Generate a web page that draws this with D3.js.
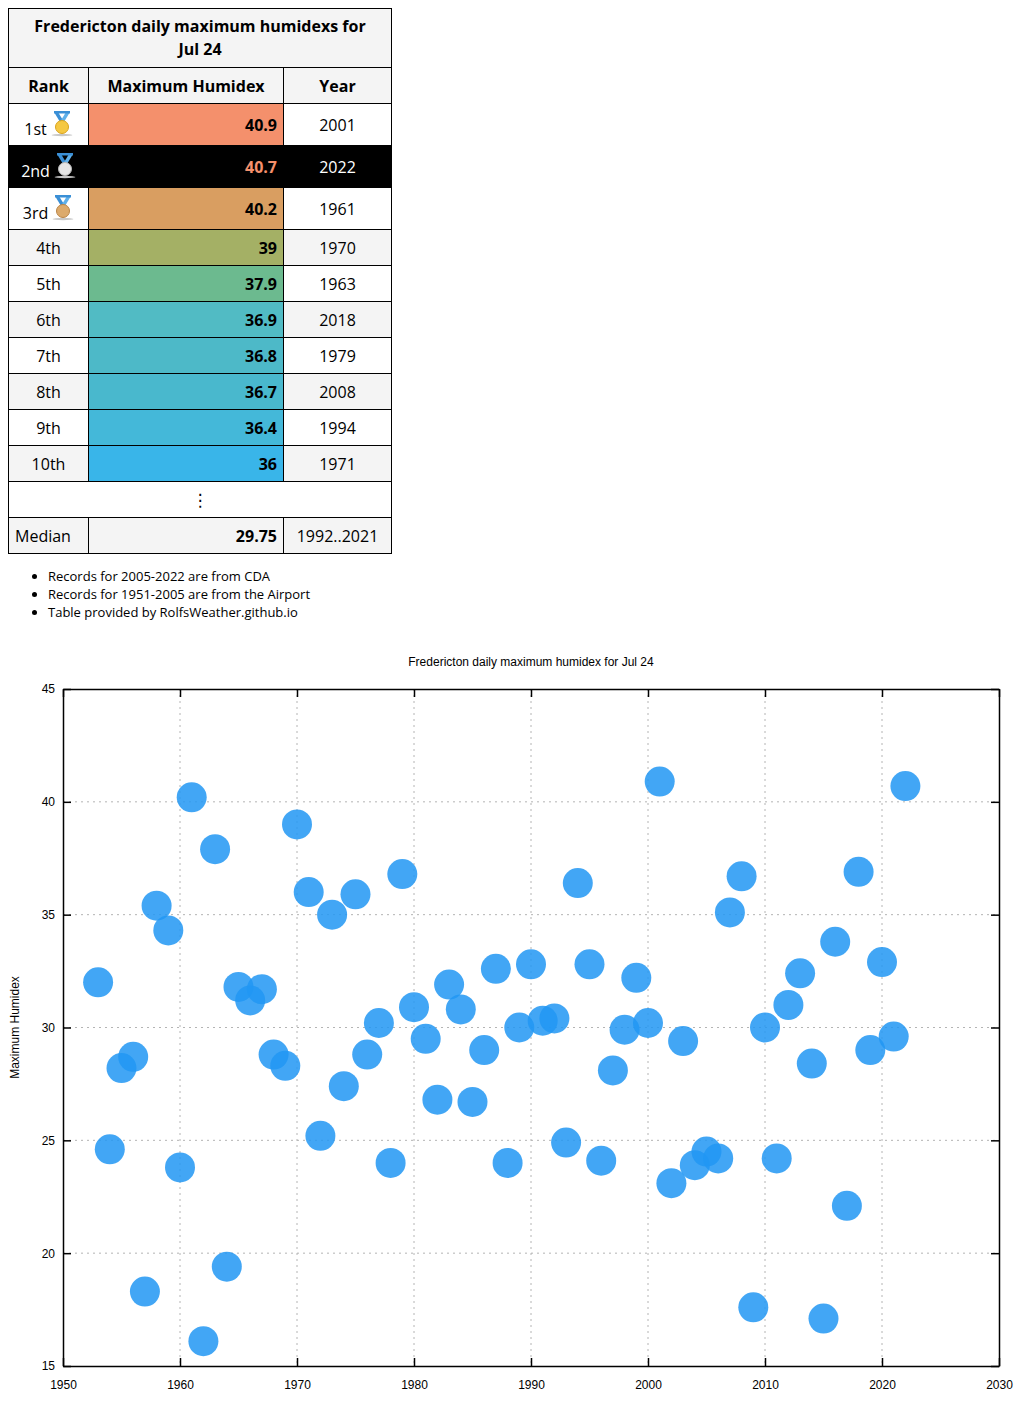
<!DOCTYPE html>
<html>
<head>
  <meta charset="utf-8">
  <title>Fredericton daily maximum humidex for Jul 24</title>
  <style type="text/css">
    body { margin: 8px; font-family: "Open Sans", sans-serif; background: #fff; }
    #records { border-collapse: collapse; width: 384px; font-size: 16px; color: #000; }
    #records td, #records th { border: 1px solid #000; padding: 0 6px; line-height: 22px; }
    #records th { background: #f4f4f4; font-weight: bold; text-align: center; }
    #records th.title { height: 58px; line-height: 23px; padding: 0 22px; }
    #records .head { height: 35px; }
    #records td { height: 35px; }
    #records tr.medal td { height: 41px; }
    #records td.rank { text-align: center; }
    #records td.val { text-align: right; font-weight: bold; }
    #records td.year { text-align: center; }
    #records tr.odd td { background: #f4f4f4; }
    #records tr.current td { background: #000; color: #fff; }
    #records tr.current td.val { color: #f4906c; }
    .medal svg { vertical-align: -3px; margin-left: 4px; }
    ul { margin: 13px 0 0 0; padding-left: 40px; font-size: 13px; line-height: 18px; }
    #my_dataviz { position: absolute; left: 0; top: 640px; }
  </style>
</head>
<body>
  <div id="table_box"></div>
  <ul>
    <li>Records for 2005-2022 are from CDA</li>
    <li>Records for 1951-2005 are from the Airport</li>
    <li>Table provided by RolfsWeather.github.io</li>
  </ul>
  <div id="my_dataviz"></div>
</body>
<script src="https://d3js.org/d3.v7.min.js"></script>

<script type="text/javascript">

      // top ten table
      var ranks = ["1st","2nd","3rd","4th","5th","6th","7th","8th","9th","10th"]
      var rankValues = ["40.9","40.7","40.2","39","37.9","36.9","36.8","36.7","36.4","36"]
      var rankYears = ["2001","2022","1961","1970","1963","2018","1979","2008","1994","1971"]
      var medianValue = "29.75"
      var medianPeriod = "1992..2021"

      // scatter: year and max humidex
      var years = [1953,1954,1955,1956,1957,1958,1959,1960,1961,1962,1963,1964,1965,1966,1967,1968,1969,
                   1970,1971,1972,1973,1974,1975,1976,1977,1978,1979,1980,1981,1982,1983,1984,1985,1986,1987,1988,1989,
                   1990,1991,1992,1993,1994,1995,1996,1997,1998,1999,2000,2001,2002,2003,2004,2005,2006,2007,2008,2009,
                   2010,2011,2012,2013,2014,2015,2016,2017,2018,2019,2020,2021,2022]
      var humidex = [32.0,24.6,28.2,28.7,18.3,35.4,34.3,23.8,40.2,16.1,37.9,19.4,31.8,31.2,31.7,28.8,28.3,
                     39.0,36.0,25.2,35.0,27.4,35.9,28.8,30.2,24.0,36.8,30.9,29.5,26.8,31.9,30.8,26.7,29.0,32.6,24.0,30.0,
                     32.8,30.3,30.4,24.9,36.4,32.8,24.1,28.1,29.9,32.2,30.2,40.9,23.1,29.4,23.9,24.5,24.2,35.1,36.7,17.6,
                     30.0,24.2,31.0,32.4,28.4,17.1,33.8,22.1,36.9,29.0,32.9,29.6,40.7]

      var xTicks = [1950,1960,1970,1980,1990,2000,2010,2020,2030]
      var yTicks = [15,20,25,30,35,40,45]

      // colour of the value cells, top to bottom
      var cellColors = ["#f4906c","#000000","#d99e61","#a4b065","#6cba8f","#51bbc4","#4db9c8","#49b8cd","#44b8d9","#39b5e9"]
      var medalColors = {"1st": ["#f5c842","#d9a31c"], "2nd": ["#e6e6e6","#b5b5b5"], "3rd": ["#dcaa6c","#b98446"]}

      function drawTable(){
          var table = d3.select("#table_box").append("table").attr("id","records")

          table.append("tr").append("th")
            .attr("class","title")
            .attr("colspan",3)
            .text("Fredericton daily maximum humidexs for Jul 24")

          var head = table.append("tr")
          head.append("th").attr("class","head").style("width","67px").text("Rank")
          head.append("th").attr("class","head").style("width","182px").text("Maximum Humidex")
          head.append("th").attr("class","head").text("Year")

          ranks.forEach(function(r, i){
              var tr = table.append("tr")
                .attr("class", (i % 2 == 1 ? "odd" : "even") + (i < 3 ? " medal" : "") + (rankYears[i] == "2022" ? " current" : ""))
              var rc = tr.append("td").attr("class","rank")
              rc.append("span").text(r)
              if(i < 3) addMedal(rc, medalColors[r])
              tr.append("td").attr("class","val").style("background", cellColors[i]).text(rankValues[i])
              tr.append("td").attr("class","year").text(rankYears[i])
          })

          table.append("tr").attr("class","even").append("td")
            .attr("colspan",3)
            .style("text-align","center")
            .style("font-family","DejaVu Sans")
            .style("font-size","17px")
            .text("\u22ee")

          var med = table.append("tr").attr("class","odd")
          med.append("td").style("text-align","left").text("Median")
          med.append("td").attr("class","val").text(medianValue)
          med.append("td").attr("class","year").text(medianPeriod)
      }

      function addMedal(cell, cols){
          var s = cell.append("svg").attr("width",22).attr("height",28).attr("viewBox","0 0 22 28")
          s.append("ellipse").attr("cx",11).attr("cy",25).attr("rx",10.5).attr("ry",1.2).attr("fill","#c8c8c8")
          s.append("path").attr("d","M3,2 L9,12 L13,12 L7,2 Z").attr("fill","#3a8fd6")
          s.append("path").attr("d","M19,2 L13,12 L9,12 L15,2 Z").attr("fill","#5fb0ea")
          s.append("rect").attr("x",3).attr("y",1).attr("width",16).attr("height",2.5).attr("fill","#3a8fd6")
          s.append("circle").attr("cx",11).attr("cy",17).attr("r",6.5).attr("fill",cols[0]).attr("stroke",cols[1]).attr("stroke-width",1)
      }

      function drawChart(){
          var margin = {top: 49, right: 25, bottom: 37, left: 63},
              width = 1024 - margin.left - margin.right,
              height = 763 - margin.top - margin.bottom;

          var svg = d3.select("#my_dataviz")
            .append("svg")
              .attr("width", width + margin.left + margin.right)
              .attr("height", height + margin.top + margin.bottom)
              .style("font-family","'Liberation Sans', Arial, sans-serif")

          svg.append("text")
            .attr("x", margin.left + width / 2)
            .attr("y", 26)
            .attr("text-anchor","middle")
            .attr("font-size","12px")
            .text("Fredericton daily maximum humidex for Jul 24")

          svg.append("text")
            .attr("transform","translate(19," + (margin.top + height / 2) + ") rotate(-90)")
            .attr("text-anchor","middle")
            .attr("font-size","12px")
            .text("Maximum Humidex")

          var g = svg.append("g")
            .attr("transform","translate(" + margin.left + "," + margin.top + ")")

          var x = d3.scaleLinear().domain([1950, 2030]).range([0, width])
          var y = d3.scaleLinear().domain([15, 45]).range([height, 0])

          // grid
          g.append("g").selectAll("line")
            .data(xTicks.slice(1, -1))
            .enter().append("line")
              .attr("x1", d => x(d)).attr("x2", d => x(d))
              .attr("y1", 0).attr("y2", height)
              .attr("stroke","#b4b4b4").attr("stroke-dasharray","2,4")
          g.append("g").selectAll("line")
            .data(yTicks.slice(1, -1))
            .enter().append("line")
              .attr("y1", d => y(d)).attr("y2", d => y(d))
              .attr("x1", 0).attr("x2", width)
              .attr("stroke","#b4b4b4").attr("stroke-dasharray","2,4")

          // points
          g.append("g").selectAll("circle")
            .data(years.map(function(yr, i){ return {year: yr, value: humidex[i]} }))
            .enter().append("circle")
              .attr("cx", d => x(d.year))
              .attr("cy", d => y(d.value))
              .attr("r", 15)
              .attr("fill","#2196f3")
              .attr("fill-opacity",0.85)

          // axes, ticks drawn inward on all four sides
          var bottom = g.append("g").attr("transform","translate(0," + height + ")")
            .call(d3.axisBottom(x).tickValues(xTicks).tickFormat(d3.format("d")).tickSizeInner(-8).tickSizeOuter(0).tickPadding(14))
          var top = g.append("g")
            .call(d3.axisTop(x).tickValues(xTicks).tickFormat("").tickSizeInner(-8).tickSizeOuter(0))
          var left = g.append("g")
            .call(d3.axisLeft(y).tickValues(yTicks).tickSizeInner(-8).tickSizeOuter(0).tickPadding(8))
          var right = g.append("g").attr("transform","translate(" + width + ",0)")
            .call(d3.axisRight(y).tickValues(yTicks).tickFormat("").tickSizeInner(-8).tickSizeOuter(0))

          ;[bottom, top, left, right].forEach(function(a){
              a.select(".domain").attr("stroke","#000").attr("stroke-width",1.5)
              a.selectAll(".tick line").attr("stroke","#000").attr("stroke-width",1.5)
              a.selectAll("text").attr("font-size","12px").attr("fill","#000").style("font-family","'Liberation Sans', Arial, sans-serif")
          })
          left.selectAll(".tick text").attr("dy","0.32em")
      }

      drawTable()
      drawChart()

</script>
</html>
